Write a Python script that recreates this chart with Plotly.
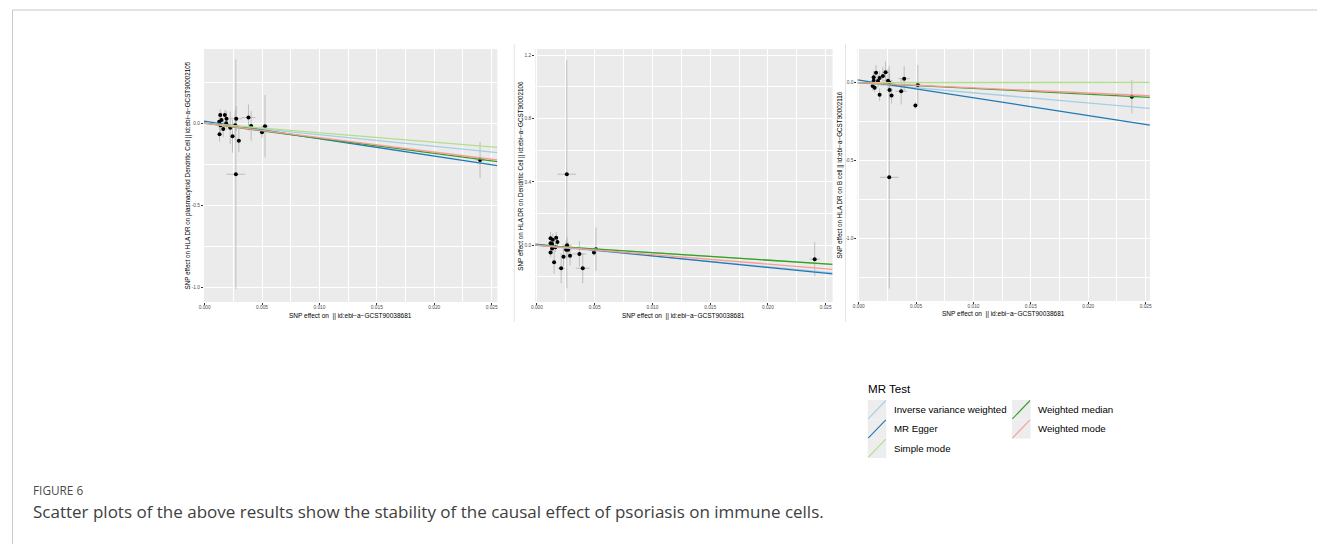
import plotly.graph_objects as go

W, H = 1319, 544

# ---------------- data ----------------
methods = ["Inverse variance weighted", "MR Egger", "Simple mode", "Weighted median", "Weighted mode"]
method_colors = ["#A6CEE3", "#1F78B4", "#B2DF8A", "#33A02C", "#FB9A99"]

x_title = "SNP effect on  || id:ebi−a−GCST90038681"

# Panel 1: plasmacytoid Dendritic Cell
p1_title = "SNP effect on HLA DR on plasmacytoid Dendritic Cell || id:ebi−a−GCST90002105"
p1_x = [0.00136, 0.00176, 0.00127, 0.00147, 0.00191, 0.00188, 0.00139, 0.00162, 0.00130, 0.00223,
        0.00243, 0.00266, 0.00275, 0.00298, 0.00382, 0.00405, 0.00500, 0.00526, 0.00272, 0.02399]
p1_y = [0.051, 0.051, 0.010, 0.020, 0.028, 0.000, -0.012, -0.035, -0.067, -0.028,
        -0.079, -0.012, 0.028, -0.106, 0.035, -0.016, -0.055, -0.018, -0.311, -0.224]
p1_sx = [0.00012, 0.00012, 0.00010, 0.00010, 0.00015, 0.00015, 0.00010, 0.00010, 0.00010, 0.00020,
         0.00020, 0.00030, 0.00050, 0.00020, 0.00060, 0.00020, 0.00015, 0.00032, 0.00082, 0.00040]
p1_sy = [0.035, 0.030, 0.040, 0.045, 0.050, 0.040, 0.040, 0.050, 0.045, 0.100,
         0.100, 0.090, 0.075, 0.070, 0.080, 0.090, 0.035, 0.190, 0.700, 0.109]
p1_slope = [-7.0, -10.6, -5.74, -9.18, -8.78]
p1_icept = [0.0, 0.012, 0.0, 0.0, 0.0]
p1_yticks = [-1.0, -0.5, 0.0]

# Panel 2: Dendritic Cell
p2_title = "SNP effect on HLA DR on Dendritic Cell || id:ebi−a−GCST90002106"
p2_x = [0.00118, 0.00138, 0.00118, 0.00132, 0.00167, 0.00178, 0.00118, 0.00132, 0.00160, 0.00149,
        0.00210, 0.00230, 0.00253, 0.00261, 0.00270, 0.00287, 0.00368, 0.00397, 0.00494, 0.00511,
        0.00259, 0.02405]
p2_y = [0.044, 0.034, 0.013, 0.008, 0.048, 0.021, -0.046, -0.021, -0.013, -0.107,
        -0.145, -0.072, -0.029, 0.000, -0.029, -0.067, -0.055, -0.145, -0.046, -0.025,
        0.448, -0.088]
p2_sx = [0.00010, 0.00010, 0.00010, 0.00010, 0.00012, 0.00012, 0.00010, 0.00010, 0.00010, 0.00010,
         0.00030, 0.00020, 0.00030, 0.00040, 0.00030, 0.00020, 0.00060, 0.00060, 0.00015, 0.00032,
         0.00082, 0.00043]
p2_sy = [0.040, 0.040, 0.030, 0.030, 0.035, 0.030, 0.030, 0.035, 0.030, 0.074,
         0.095, 0.060, 0.060, 0.050, 0.050, 0.060, 0.080, 0.095, 0.020, 0.137,
         0.720, 0.108]
p2_slope = [-6.8, -7.3, -4.69, -4.69, -5.93]
p2_icept = [0.0, 0.006, 0.0, 0.0, 0.0]
p2_yticks = [0.0, 0.4, 0.8, 1.2]

# Panel 3: B cell
p3_title = "SNP effect on HLA DR on B cell || id:ebi−a−GCST90002116"
p3_x = [0.00130, 0.00151, 0.00130, 0.00121, 0.00139, 0.00168, 0.00182, 0.00182, 0.00211, 0.00234,
        0.00255, 0.00269, 0.00269, 0.00286, 0.00370, 0.00396, 0.00494, 0.00515, 0.00266, 0.02380]
p3_y = [0.035, 0.064, 0.013, -0.021, -0.032, 0.011, 0.030, -0.077, 0.043, 0.067,
        0.013, 0.000, -0.047, -0.083, -0.055, 0.026, -0.146, -0.015, -0.608, -0.090]
p3_sx = [0.00010, 0.00012, 0.00010, 0.00010, 0.00010, 0.00012, 0.00015, 0.00010, 0.00030, 0.00030,
         0.00040, 0.00030, 0.00030, 0.00020, 0.00050, 0.00050, 0.00015, 0.00032, 0.00082, 0.00040]
p3_sy = [0.040, 0.050, 0.040, 0.030, 0.030, 0.040, 0.045, 0.040, 0.060, 0.070,
         0.075, 0.060, 0.060, 0.050, 0.085, 0.080, 0.020, 0.129, 0.715, 0.107]
p3_slope = [-6.5, -11.4, 0.1, -3.7, -3.3]
p3_icept = [0.0, 0.017, 0.0, 0.0, 0.0]
p3_yticks = [-1.0, -0.5, 0.0]

x_ticks = [0.0, 0.005, 0.010, 0.015, 0.020, 0.025]

legend_title = "MR Test"
fig_label = "FIGURE 6"
caption = "Scatter plots of the above results show the stability of the causal effect of psoriasis on immune cells."

# ---------------- layout helpers ----------------
def PX(x):
    return x / W

def PY(y):
    return 1 - y / H

panels = [
    dict(x=p1_x, y=p1_y, sx=p1_sx, sy=p1_sy, slope=p1_slope, icept=p1_icept, yticks=p1_yticks,
         ytitle=p1_title, box=(200, 495, 49, 302), xr=[-0.00006, 0.0255], yr=[-1.09, 0.453],
         ytitle_x=183, xtitle_y=309.5),
    dict(x=p2_x, y=p2_y, sx=p2_sx, sy=p2_sy, slope=p2_slope, icept=p2_icept, yticks=p2_yticks,
         ytitle=p2_title, box=(533, 832, 49, 302), xr=[-0.00015, 0.0256], yr=[-0.358, 1.238],
         ytitle_x=518, xtitle_y=310),
    dict(x=p3_x, y=p3_y, sx=p3_sx, sy=p3_sy, slope=p3_slope, icept=p3_icept, yticks=p3_yticks,
         ytitle=p3_title, box=(857, 1151, 49, 301), xr=[-0.00011, 0.02537], yr=[-1.403, 0.2166],
         ytitle_x=839, xtitle_y=308),
]

FONT = "Liberation Sans, Arial, sans-serif"
fig = go.Figure()
annotations = []
shapes = []

for i, p in enumerate(panels):
    n = "" if i == 0 else str(i + 1)
    xa, ya = "x" + n, "y" + n
    x0, x1, y0, y1 = p["box"]
    # error bars + points
    fig.add_trace(go.Scatter(
        x=p["x"], y=p["y"], mode="markers", xaxis=xa, yaxis=ya, showlegend=False,
        marker=dict(color="black", size=4),
        error_x=dict(type="data", array=p["sx"], visible=True, width=0, thickness=0.7, color="#ababab"),
        error_y=dict(type="data", array=p["sy"], visible=True, width=0, thickness=0.7, color="#ababab"),
    ))
    # MR lines
    for m, col, b, a in zip(methods, method_colors, p["slope"], p["icept"]):
        xs = p["xr"]
        ys = [a + b * xv for xv in xs]
        fig.add_trace(go.Scatter(x=xs, y=ys, mode="lines", xaxis=xa, yaxis=ya, showlegend=False,
                                 line=dict(color=col, width=1.3), name=m))
    yt = p["yticks"]
    step = yt[1] - yt[0]
    common = dict(showgrid=True, gridcolor="white", gridwidth=1, zeroline=False, showline=False,
                  ticks="outside", ticklen=2, tickwidth=0.6, tickcolor="#333333",
                  tickfont=dict(size=4.8, color="#4D4D4D", family=FONT))
    fig.layout["xaxis" + n] = dict(
        domain=[PX(x0), PX(x1)], anchor=ya, range=p["xr"], tickvals=x_ticks,
        ticktext=[f"{v:.3f}" for v in x_ticks], ticklabelstandoff=-2,
        minor=dict(dtick=0.0025, tick0=0, showgrid=True, gridcolor="white", gridwidth=0.5, ticks=""),
        **common)
    fig.layout["yaxis" + n] = dict(
        domain=[PY(y1), PY(y0)], anchor=xa, range=p["yr"], tickvals=yt,
        ticktext=[f"{v:.1f}" for v in yt],
        minor=dict(dtick=step / 2, tick0=yt[0] - step / 2, showgrid=True, gridcolor="white",
                   gridwidth=0.5, ticks=""),
        **common)
    # axis titles
    annotations.append(dict(x=PX((x0 + x1) / 2), y=PY(p["xtitle_y"]), xref="paper", yref="paper",
                            text=x_title, showarrow=False, xanchor="center", yanchor="top",
                            font=dict(size=6.5, color="black", family=FONT)))
    annotations.append(dict(x=PX(p["ytitle_x"]), y=PY((y0 + y1) / 2), xref="paper", yref="paper",
                            text=p["ytitle"], showarrow=False, textangle=-90, xanchor="center",
                            yanchor="middle", font=dict(size=6.3, color="black", family=FONT)))
    # panel background
    shapes.append(dict(type="rect", xref="paper", yref="paper", x0=PX(x0), x1=PX(x1),
                       y0=PY(y1), y1=PY(y0), fillcolor="#EBEBEB", line=dict(width=0), layer="below"))

# faint borders of the panel images
for bx in [512, 845]:
    shapes.append(dict(type="line", xref="paper", yref="paper", x0=PX(bx), x1=PX(bx),
                       y0=PY(322), y1=PY(44), line=dict(color="#e4e4e4", width=1)))

# outer frame
shapes.append(dict(type="line", xref="paper", yref="paper", x0=PX(7.5), x1=1.0,
                   y0=PY(10), y1=PY(10), line=dict(color="#c8c8c8", width=1)))
shapes.append(dict(type="line", xref="paper", yref="paper", x0=PX(7.5), x1=PX(7.5),
                   y0=0, y1=PY(10), line=dict(color="#c8c8c8", width=1)))

# ---------------- legend (drawn) ----------------
annotations.append(dict(x=PX(866), y=PY(388), xref="paper", yref="paper", text=legend_title,
                        showarrow=False, xanchor="left", yanchor="middle",
                        font=dict(size=11.6, color="black", family=FONT)))
key_w, key_h = 18.7, 19.3
col_x = [867.3, 1012.3]
row_top = 400.0
for k, (m, col) in enumerate(zip(methods, method_colors)):
    c = 0 if k < 3 else 1
    r = k if k < 3 else k - 3
    kx0 = col_x[c]
    ky0 = row_top + r * key_h
    shapes.append(dict(type="rect", xref="paper", yref="paper", x0=PX(kx0), x1=PX(kx0 + key_w),
                       y0=PY(ky0 + key_h), y1=PY(ky0), fillcolor="#EDEDED", line=dict(width=0)))
    shapes.append(dict(type="line", xref="paper", yref="paper", x0=PX(kx0 + 0.5), x1=PX(kx0 + key_w - 0.5),
                       y0=PY(ky0 + key_h - 0.5), y1=PY(ky0 + 0.5), line=dict(color=col, width=1.1)))
    annotations.append(dict(x=PX(kx0 + key_w + 6), y=PY(ky0 + key_h / 2), xref="paper", yref="paper",
                            text=m, showarrow=False, xanchor="left", yanchor="middle",
                            font=dict(size=9.7, color="black", family=FONT)))

# ---------------- caption ----------------
annotations.append(dict(x=PX(26), y=PY(490), xref="paper", yref="paper", text=fig_label,
                        showarrow=False, xanchor="left", yanchor="middle",
                        font=dict(size=11.8, color="#4a4a4a", family="Open Sans, sans-serif")))
annotations.append(dict(x=PX(26), y=PY(511.5), xref="paper", yref="paper", text=caption,
                        showarrow=False, xanchor="left", yanchor="middle",
                        font=dict(size=17, color="#404040", family="Open Sans, sans-serif")))

fig.update_layout(width=W, height=H, margin=dict(l=0, r=0, t=0, b=0),
                  paper_bgcolor="white", plot_bgcolor="rgba(0,0,0,0)",
                  showlegend=False, annotations=annotations, shapes=shapes)

fig.write_html("out.html", config={"displayModeBar": False},
               post_script="document.body.style.margin='0';document.body.style.overflow='hidden';")
